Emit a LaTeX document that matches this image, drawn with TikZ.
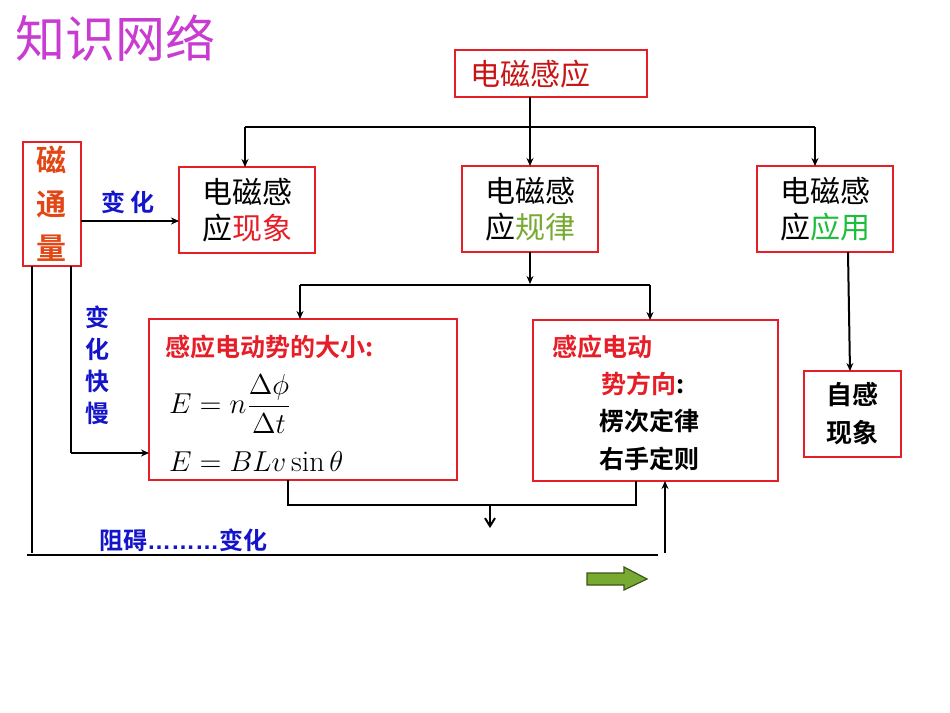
\documentclass[tikz,border=0pt]{standalone}
\usepackage{fontspec}
\newfontfamily\cjk{Noto Sans CJK SC}
\newfontfamily\cjkb{Noto Sans CJK SC Bold}
\usetikzlibrary{arrows.meta}
\definecolor{bred}{RGB}{230,30,40}
\definecolor{dred}{RGB}{200,20,20}
\definecolor{oran}{RGB}{225,70,20}
\definecolor{bblue}{RGB}{20,20,200}
\definecolor{purp}{RGB}{200,60,210}
\definecolor{gr}{RGB}{120,170,50}
\definecolor{lgreen}{RGB}{30,190,60}
\tikzset{x=0.5pt,y=-0.5pt,
 rbox/.style={draw=bred,line width=1.2pt,inner sep=0pt},
 ln/.style={line width=1pt},
 arr/.style={ln,-{Stealth[length=4pt,width=3.5pt]}},
 big/.style={font=\cjk\fontsize{15}{18}\selectfont,align=center},
 bl/.style={font=\cjkb\fontsize{12}{15}\selectfont,text=bblue},
}
\begin{document}
\begin{tikzpicture}
\useasboundingbox (0,0) rectangle (950,713);
\node[anchor=west,font=\cjk\fontsize{25}{28}\selectfont,text=purp] (title) at (8,38) {知识网络};
% boxes
\draw[rbox] (455,50) rectangle (647,97); \node[big,text=dred] (top) at (530,74) {电磁感应};
\coordinate (topb) at (530,97);
\draw[rbox] (23,142) rectangle (81,266);
\node[font=\cjkb\fontsize{15}{22}\selectfont,text=oran,align=center] (phi) at (52,204) {磁\\通\\量};
\draw[rbox] (179,167) rectangle (315,253);
\node[big] (xx) at (247,210) {电磁感\\应{\color{bred}现象}};
\draw[rbox] (462,166) rectangle (598,252);
\node[big] (gl) at (530,209) {电磁感\\应{\color{gr}规律}};
\draw[rbox] (757,166) rectangle (893,252);
\node[big] (yy) at (825,209) {电磁感\\应{\color{lgreen}应用}};
\draw[rbox] (149,319) rectangle (457,480);
\draw[rbox] (533,320) rectangle (778,481);
\draw[rbox] (804,371) rectangle (901,457);
\node[font=\cjkb\fontsize{13}{19}\selectfont,align=center] (zg) at (852,414) {自感\\现象};
% left box text
\node[anchor=west,font=\cjkb\fontsize{12.5}{15}\selectfont,text=bred] (dx) at (158,347) {感应电动势的大小:};
\node[anchor=west,font=\fontsize{15}{17}\selectfont] (f1) at (162,404) {$E=n\displaystyle\frac{\Delta\phi}{\Delta t}$};
\node[anchor=west,font=\fontsize{15}{17}\selectfont] (f2) at (162,462) {$E=BLv\sin\theta$};
% right box text
\node[anchor=west,font=\cjkb\fontsize{12.5}{15}\selectfont,text=bred] (fx1) at (545,347) {感应电动};
\node[anchor=west,font=\cjkb\fontsize{12.5}{15}\selectfont,text=bred] (fx2) at (594,384) {势方向\textcolor{black}{:}};
\node[anchor=west,font=\cjkb\fontsize{12.5}{15}\selectfont] (ld) at (592,421) {楞次定律};
\node[anchor=west,font=\cjkb\fontsize{12.5}{15}\selectfont] (yz) at (592,459) {右手定则};
% connectors top
\draw[ln] (245,127) -- (815,127);
\draw[arr] (topb) -- (530,166);
\draw[arr] (245,127) -- (245,167);
\draw[arr] (815,127) -- (815,166);
\draw[arr] (81,221) -- (179,221);
\node[bl] (bh) at (128,202) {变 化};
\draw[arr] (530,252) -- (530,284);
\draw[ln] (300,285) -- (650,285);
\draw[arr] (300,285) -- (300,319);
\draw[arr] (650,285) -- (650,320);
\draw[arr] (848,252) -- (850,371);
% left verticals
\draw[ln] (32,266) -- (32,553);
\draw[ln] (71,266) -- (71,453);
\draw[arr] (71,453) -- (149,453);
\node[font=\cjkb\fontsize{12}{16}\selectfont,text=bblue,align=center] (kb) at (97,365) {变\\化\\快\\慢};
% bottom
\draw[ln] (288,480) -- (288,505) -- (636,505) -- (636,481);
\draw[ln,-{Straight Barb[length=4pt,width=5pt]}] (490,505) -- (490,528);
\draw[ln] (27,555) -- (658,555);
\draw[arr] (665,553) -- (665,481);
\node[bl,anchor=west] (zh) at (92,540) {阻碍{\fontspec{Liberation Sans}\bfseries\char"2026\char"2026\char"2026}变化};
\draw[draw=black!50!gr,fill=gr,line width=0.6pt] (587,573) -- (624,573) -- (624,567) -- (647,579) -- (624,590) -- (624,585) -- (587,585) -- cycle;
\end{tikzpicture}
\end{document}
